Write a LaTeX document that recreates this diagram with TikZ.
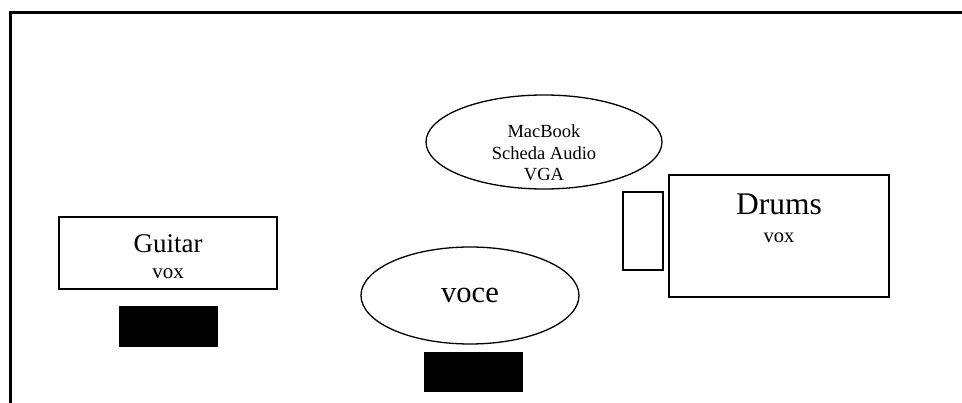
\documentclass[tikz,border=0pt]{standalone}
\usepackage{fontspec}
\setmainfont{Liberation Serif}
\usetikzlibrary{shapes.geometric}
\begin{document}
\begin{tikzpicture}[x=1pt,y=-1pt,
  box/.style={draw, rectangle, line width=2pt, inner sep=0pt},
  oval/.style={draw, ellipse, line width=1.3pt, inner sep=0pt},
  pad/.style={fill=black, rectangle, inner sep=0pt},
  lbl/.style={anchor=base, inner sep=0pt}]
\useasboundingbox (0,0) rectangle (962,403);
% frame
\coordinate (fbl) at (10.5,403);
\coordinate (ftl) at (10.5,12.5);
\coordinate (ftr) at (962,12.5);
\draw[line width=3pt] (fbl) -- (ftl) -- (ftr);
% Guitar
\node[box, minimum width=218pt, minimum height=72pt] (guitar) at (168,253) {};
\node[lbl, font=\fontsize{27}{30}\selectfont] (guitarT) at (168,253) {Guitar};
\node[lbl, font=\fontsize{21}{24}\selectfont] (guitarV) at (168,279) {vox};
\node[pad, minimum width=99pt, minimum height=41pt] (guitarP) at (168.5,326.5) {};
% MacBook
\node[oval, minimum width=236pt, minimum height=94pt] (mac) at (544,142) {};
\node[lbl, font=\fontsize{18.5}{21.5}\selectfont] (mac1) at (544,138) {MacBook};
\node[lbl, font=\fontsize{18.5}{21.5}\selectfont] (mac2) at (544,159.5) {Scheda Audio};
\node[lbl, font=\fontsize{18.5}{21.5}\selectfont] (mac3) at (544,181) {VGA};
% voce
\node[oval, minimum width=218pt, minimum height=97pt] (voce) at (470,295.5) {};
\node[lbl, font=\fontsize{30.5}{34}\selectfont] (voceT) at (470,303) {voce};
\node[pad, minimum width=99pt, minimum height=40pt] (voceP) at (473.5,372) {};
% small rect
\node[draw, rectangle, line width=2.7pt, inner sep=0pt, minimum width=40pt, minimum height=78pt] (small) at (643,231) {};
% Drums
\node[box, minimum width=220pt, minimum height=122pt] (drums) at (779,236) {};
\node[lbl, font=\fontsize{31.5}{35}\selectfont] (drumsT) at (779,215) {Drums};
\node[lbl, font=\fontsize{20.5}{24}\selectfont] (drumsV) at (779,243) {vox};
\end{tikzpicture}
\end{document}
